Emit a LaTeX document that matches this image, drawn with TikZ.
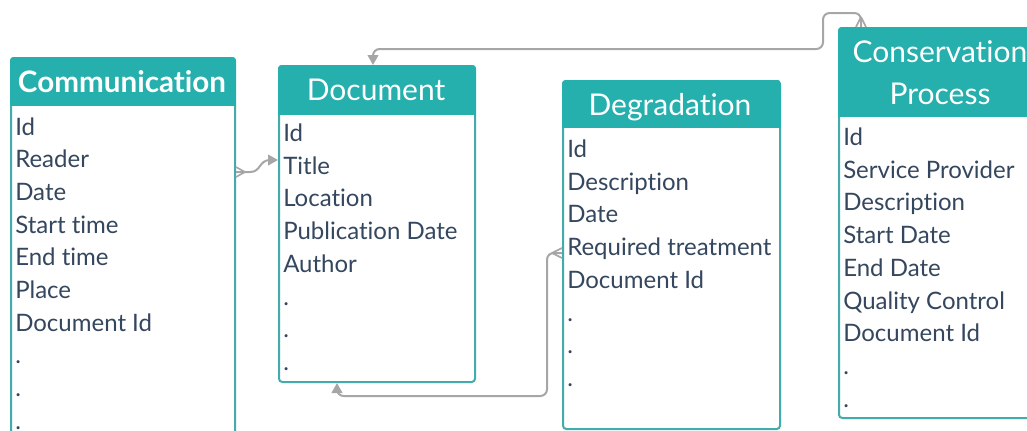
\documentclass[tikz,border=0pt]{standalone}
\usepackage{fontspec}
\setmainfont[Ligatures=NoCommon]{Lato}
\usetikzlibrary{arrows.meta}
\definecolor{hdr}{HTML}{25AFAD}
\definecolor{edgec}{HTML}{45AAAA}
\definecolor{txt}{HTML}{34475E}
\definecolor{connc}{HTML}{A6A6A6}
\tikzset{
  entity/.style={draw=edgec, line width=1.5pt, fill=white, rounded corners=2.5pt, anchor=north west, inner sep=0pt},
  title/.style={text=white, font=\fontsize{22.5}{31.5}\selectfont, align=center, inner sep=0pt},
  field/.style={text=txt, font=\fontsize{18}{22}\selectfont, anchor=base west, inner sep=0pt},
  link/.style={draw=connc, line width=1.5pt},
  tip/.style={-{Triangle[length=7.5pt,width=8pt]}},
  foot/.style={draw=connc, line width=1.2pt},
}
\begin{document}
\begin{tikzpicture}[x=0.75pt,y=-0.75pt]
\useasboundingbox (0,0) rectangle (1027,430);
\clip (0,0) rectangle (1027,430);

% entity frames
\node[entity, minimum width=224*0.75pt, minimum height=383*0.75pt] (comm) at (10,57) {};
\node[entity, minimum width=196*0.75pt, minimum height=316*0.75pt] (doc) at (278,65) {};
\node[entity, minimum width=217*0.75pt, minimum height=348*0.75pt] (deg) at (562,80) {};
\node[entity, minimum width=210*0.75pt, minimum height=390*0.75pt] (cons) at (838,27) {};

% header fills
\begin{scope}
\clip[rounded corners=2.5pt] (comm.north west) rectangle (comm.south east);
\fill[hdr] (comm.north west) rectangle (comm.east |- 0,106);
\end{scope}
\begin{scope}
\clip[rounded corners=2.5pt] (doc.north west) rectangle (doc.south east);
\fill[hdr] (doc.north west) rectangle (doc.east |- 0,115);
\end{scope}
\begin{scope}
\clip[rounded corners=2.5pt] (deg.north west) rectangle (deg.south east);
\fill[hdr] (deg.north west) rectangle (deg.east |- 0,128);
\end{scope}
\begin{scope}
\clip[rounded corners=2.5pt] (cons.north west) rectangle (cons.south east);
\fill[hdr] (cons.north west) rectangle (cons.east |- 0,117);
\end{scope}

% titles
\node[title, font=\fontsize{22.2}{31.5}\selectfont\bfseries] (commt) at (122,82) {Communication};
\node[title] (doct) at (376,90) {Document};
\node[title] (degt) at (670,107) {Degradation};
\node[title] (const) at (940,73) {Conservation\\Process};

% fields
\foreach \t [count=\i from 0] in {Id,Reader,Date,Start time,End time,Place,Document Id,.,.,.}
  \node[field] (comm-\i) at (15,135+32.7*\i) {\t};
\foreach \t [count=\i from 0] in {Id,Title,Location,Publication Date,Author,.,.,.}
  \node[field] (doc-\i) at (283,141.5+32.7*\i) {\t};
\foreach \t [count=\i from 0] in {Id,Description,Date,Required treatment,Document Id,.,.,.}
  \node[field] (deg-\i) at (567,157.5+32.7*\i) {\t};
\foreach \t [count=\i from 0] in {Id,Service Provider,Description,Start Date,End Date,Quality Control,Document Id,.,.}
  \node[field] (cons-\i) at (843,145.5+32.7*\i) {\t};

% connector Communication -> Document
\draw[link, tip] (comm.east |- 0,172) -- (250,172) .. controls (261,172) and (259,160) .. (270,160) -- (doc.west |- 0,160);
\draw[foot] (245,172) -- (comm.east |- 0,167) (245,172) -- (comm.east |- 0,177);

% connector Conservation Process -> Document
\draw[link, tip, rounded corners=5pt] (cons.north -| 861,0) |- (823,13) |- (373,49) -- (doc.north -| 373,0);
\draw[foot] (861,17) -- (cons.north -| 856,0) (861,17) -- (cons.north -| 866,0);

% connector Degradation -> Document
\draw[link, tip, rounded corners=5pt] (deg.west |- 0,253) -| (547,396) -| (doc.south -| 337,0);
\draw[foot] (552,253) -- (deg.west |- 0,248) (552,253) -- (deg.west |- 0,258);
\end{tikzpicture}
\end{document}
